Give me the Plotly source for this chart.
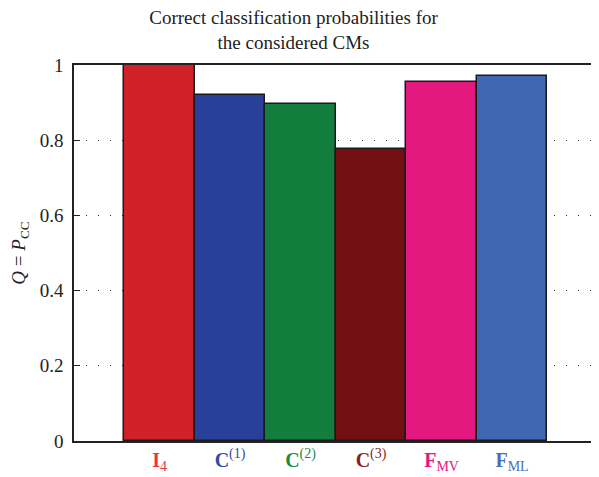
import plotly.graph_objects as go

categories = ["I4", "C(1)", "C(2)", "C(3)", "FMV", "FML"]
tick_labels = ["<b>I</b><sub>4</sub>", "<b>C</b><sup>(1)</sup>", "<b>C</b><sup>(2)</sup>",
               "<b>C</b><sup>(3)</sup>", "<b>F</b><sub>MV</sub>", "<b>F</b><sub>ML</sub>"]
values = [1.0, 0.920, 0.896, 0.777, 0.955, 0.971]
bar_colors = ["#D12128", "#28409A", "#137D3E", "#720F13", "#E4197F", "#3F67B1"]
label_colors = ["#E8363C", "#3449A6", "#1A8A45", "#8A1F23", "#E4197F", "#4A6FB5"]
y_ticks = [0, 0.2, 0.4, 0.6, 0.8, 1]
y_tick_text = ["0", "0.2", "0.4", "0.6", "0.8", "1"]

x_pos = list(range(len(categories)))
ticktext = [f"<span style='color:{c}'>{t}</span>" for t, c in zip(tick_labels, label_colors)]

serif = "Liberation Serif"

fig = go.Figure()
fig.add_trace(go.Bar(
    x=x_pos, y=values, width=1,
    marker=dict(color=bar_colors, line=dict(color="#1a1a1a", width=1.5)),
    hoverinfo="x+y", showlegend=False,
))
# invisible trace to host the right-hand tick axis
fig.add_trace(go.Scatter(x=[x_pos[0]], y=[values[0]], yaxis="y2", mode="markers",
                         marker=dict(opacity=0), showlegend=False, hoverinfo="skip"))

# page body has an 8px default margin, so the figure is 8px smaller
fig.update_layout(
    width=591, height=469,
    margin=dict(l=66, r=0, t=57, b=36, autoexpand=False),
    plot_bgcolor="white", paper_bgcolor="white",
    font=dict(family=serif, size=17, color="#222"),
    title=dict(text="Correct classification probabilities for<br>the considered CMs",
               x=0.4831, xanchor="center", xref="container", y=0.966, yref="container",
               yanchor="top", pad=dict(t=0, b=0),
               font=dict(family=serif, size=19, color="#222")),
    bargap=0,
    xaxis=dict(range=[-1.213, 6.233], tickvals=x_pos, ticktext=ticktext,
               showgrid=False, zeroline=False, showline=True, linecolor="#222",
               linewidth=1.5, mirror=True, ticks="", automargin=False,
               tickfont=dict(size=20, family=serif)),
    yaxis=dict(range=[0, 1], tickvals=y_ticks, ticktext=y_tick_text,
               showgrid=True, gridcolor="#333", gridwidth=1, griddash="1px,11px",
               zeroline=False, showline=True, linecolor="#222", linewidth=1.5,
               ticks="inside", ticklen=6, tickcolor="#222", automargin=False,
               ticklabelstandoff=5,
               title=dict(text="<i>Q</i> = <i>P</i><sub>CC</sub>", standoff=12,
                          font=dict(family=serif, size=19)),
               tickfont=dict(size=19, family=serif)),
    yaxis2=dict(range=[0, 1], overlaying="y", side="right", anchor="x",
                tickvals=y_ticks, showticklabels=False, showgrid=False,
                zeroline=False, showline=False, ticks="inside", ticklen=6,
                tickcolor="#222", automargin=False),
)

fig.write_html("out.html")
